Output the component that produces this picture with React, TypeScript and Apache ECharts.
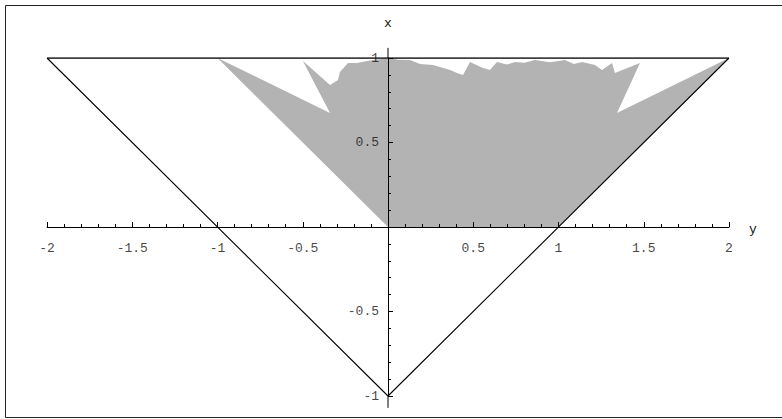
import React, { useEffect, useRef } from "react";
import * as echarts from "echarts";

// Region vertices (horizontal "y" value, vertical "x" value)
const regionH = [0, 1, 2, 1.343, 1.478, 1.331, 1.314, 1.255, 1.214, 1.138, 1.09, 1.038, 0.95, 0.862, 0.8, 0.745, 0.698, 0.639, 0.598, 0.557, 0.481, 0.44, 0.405, 0.364, 0.305, 0.264, 0.188, 0.129, 0.06, 0.012, -0.088, -0.123, -0.182, -0.235, -0.282, -0.293, -0.34, -0.499, -0.34, -1];
const regionV = [0, 0, 1, 0.675, 0.97, 0.911, 0.97, 0.929, 0.959, 0.976, 0.965, 0.988, 0.975, 0.988, 0.972, 0.976, 0.962, 0.976, 0.929, 0.941, 0.976, 0.899, 0.911, 0.929, 0.947, 0.959, 0.964, 0.988, 0.99, 1.0, 0.988, 0.982, 0.97, 0.97, 0.917, 0.87, 0.84, 0.982, 0.675, 1];

// Triangle outline
const topLine = [[-2, 1], [2, 1]];
const sideLines = [[-2, 1], [0, -1], [2, 1]];

// Vertical axis extends a little past the labelled range
const axisExtUp = [[0, 1], [0, 1.06]];
const axisExtDown = [[0, -1], [0, -1.07]];

// Tick labels
const hTickLabels = [-2, -1.5, -1, -0.5, 0.5, 1, 1.5, 2];
const vTickLabels = [-1, -0.5, 0.5, 1];

const hMin = -2, hMax = 2, vMin = -1, vMax = 1, tickStep = 0.5;

const FONT = "'Liberation Mono', 'DejaVu Sans Mono', monospace";

export default function App() {
  const ref = useRef<HTMLDivElement>(null);
  useEffect(() => {
    const chart = echarts.init(ref.current!, undefined, { renderer: "svg" });
    const nameFont = { fontFamily: FONT, fontSize: 13, color: "#111" };
    chart.setOption({
      animation: false,
      backgroundColor: "#fff",
      grid: { left: 47, right: 53, top: 58, bottom: 23 },
      graphic: [
        {
          type: "rect",
          shape: { x: 5.5, y: 5.5, width: 800, height: 412 },
          style: { fill: "none", stroke: "#222", lineWidth: 1 },
          silent: true,
        },
      ],
      xAxis: {
        type: "value",
        min: hMin,
        max: hMax,
        interval: tickStep,
        z: 5,
        name: "y",
        nameLocation: "end",
        nameGap: 20,
        nameTextStyle: { ...nameFont, verticalAlign: "top", padding: [-4, 0, 0, 0] },
        axisLine: { onZero: true, lineStyle: { color: "#000", width: 1 } },
        axisTick: { inside: true, length: 5, lineStyle: { color: "#000" } },
        minorTick: { show: true, splitNumber: 5, length: 3, lineStyle: { color: "#000" } },
        axisLabel: { show: false },
        splitLine: { show: false },
      },
      yAxis: {
        type: "value",
        min: vMin,
        max: vMax,
        interval: tickStep,
        z: 5,
        name: "x",
        nameLocation: "end",
        nameGap: 28,
        nameTextStyle: nameFont,
        axisLine: { onZero: true, lineStyle: { color: "#000", width: 1 } },
        axisTick: { inside: true, length: 5, lineStyle: { color: "#000" } },
        minorTick: { show: true, splitNumber: 5, length: 3, lineStyle: { color: "#000" } },
        axisLabel: { show: false },
        splitLine: { show: false },
      },
      series: [
        {
          type: "custom",
          z: 1,
          silent: true,
          data: [[0, 0]],
          renderItem: (_params: any, api: any) => {
            const points = regionH.map((h, i) => api.coord([h, regionV[i]]));
            return {
              type: "polygon",
              shape: { points },
              style: { fill: "#b3b3b3", stroke: "none" },
            };
          },
        },
        {
          type: "line",
          z: 6,
          data: topLine,
          symbol: "none",
          silent: true,
          lineStyle: { color: "#000", width: 1.6 },
        },
        {
          type: "line",
          z: 6,
          data: sideLines,
          symbol: "none",
          silent: true,
          lineStyle: { color: "#000", width: 1.1 },
        },
        {
          type: "line",
          z: 6,
          clip: false,
          data: axisExtUp,
          symbol: "none",
          silent: true,
          lineStyle: { color: "#000", width: 1 },
        },
        {
          type: "line",
          z: 6,
          clip: false,
          data: axisExtDown,
          symbol: "none",
          silent: true,
          lineStyle: { color: "#000", width: 1 },
        },
        {
          type: "scatter",
          z: 7,
          silent: true,
          clip: false,
          symbolSize: 0,
          data: hTickLabels.map((v) => [v, 0]),
          label: {
            show: true,
            position: "bottom",
            distance: 15,
            formatter: (p: any) => String(p.value[0]),
            fontFamily: FONT,
            fontSize: 13,
            color: "#111",
          },
        },
        {
          type: "scatter",
          z: 7,
          silent: true,
          clip: false,
          symbolSize: 0,
          data: vTickLabels.map((v) => [0, v]),
          label: {
            show: true,
            position: "left",
            distance: 9,
            formatter: (p: any) => String(p.value[1]),
            fontFamily: FONT,
            fontSize: 13,
            color: "#111",
          },
        },
      ],
    });
    return () => chart.dispose();
  }, []);
  return (
    <div
      ref={ref}
      style={{ position: "fixed", left: 0, top: 0, width: 782, height: 419, background: "#fff" }}
    />
  );
}
